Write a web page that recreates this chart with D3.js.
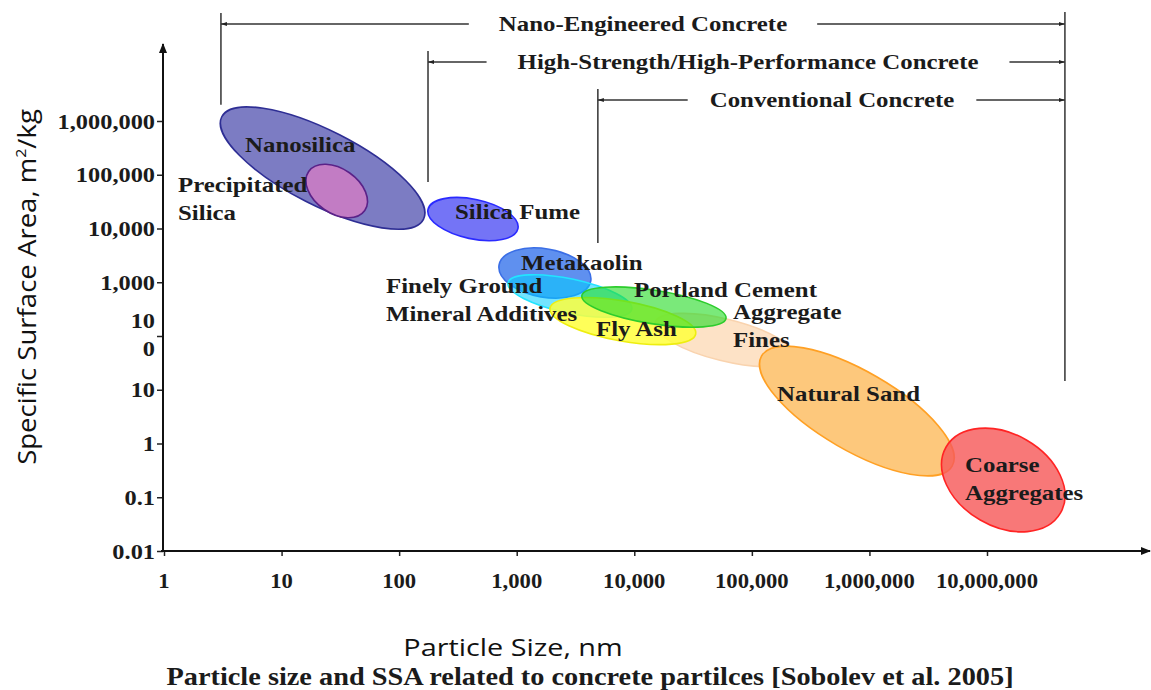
<!DOCTYPE html>
<html>
<head>
<meta charset="utf-8">
<script src="https://cdn.jsdelivr.net/npm/d3@7/dist/d3.min.js"></script>
<style>
  html, body { margin: 0; padding: 0; background: #fff; }
  svg { display: block; }
</style>
</head>
<body>
<svg id="chart" width="1151" height="690"></svg>
<script>
// ---- data ---------------------------------------------------------------
// Material groups: each region is an ellipse whose major axis runs from
// (sizeFrom, ssaFrom) to (sizeTo, ssaTo); particle size in nm, SSA in m²/kg.
const materials   = ["Nanosilica", "Precipitated Silica", "Silica Fume", "Metakaolin",
                     "Finely Ground Mineral Additives", "Aggregate Fines", "Fly Ash",
                     "Portland Cement", "Natural Sand", "Coarse Aggregates"];
const sizeFrom    = [3.1,   17,     176,   708,  843,  15000,  1920,  3580,  121000,  4.49e6];
const sizeTo      = [161,   51,     1024,  4260, 9520, 232000, 33300, 60300, 5.05e6,  4.22e7];
const ssaFrom     = [1.2e6, 115000, 22600, 2100, 977,  177,    330,   565,   42.5,    0.86];
const ssaTo       = [14800, 21600,  9950,  1050, 315,  40,     109,   212,   0.38,    0.051];
const widthRatio  = [0.33,  0.65,   0.43,  0.52, 0.27, 0.29,   0.27,  0.23,  0.36,    0.70];

// Concrete classes: particle-size range covered by each arrow band
const concreteClasses = ["Nano-Engineered Concrete",
                         "High-Strength/High-Performance Concrete",
                         "Conventional Concrete"];
const classFromSize   = [3.05, 176, 4900];
const classToSize     = 4.6e7;
const classFloorSSA   = [2.0e6, 73000, 5400];   // lower end of each left marker
const rightFloorSSA   = 14.5;                   // lower end of the shared right marker

// Axis ticks
const xTickValues = [1, 10, 100, 1000, 1e4, 1e5, 1e6, 1e7];
const xTickLabels = ["1", "10", "100", "1,000", "10,000", "100,000", "1,000,000", "10,000,000"];
const yTickValues = [0.01, 0.1, 1, 10, 100, 1000, 1e4, 1e5, 1e6];
const yTickLabels = ["0.01", "0.1", "1", "10", "10|0", "1,000", "10,000", "100,000", "1,000,000"];

// ---- styling ------------------------------------------------------------
const fills   = ["#7c7cc3", "#c27cc4", "#7474f6", "#5f90ef", "rgba(0,205,255,0.55)",
                 "#fde2c6", "rgba(255,255,60,0.85)", "rgba(40,220,40,0.62)", "#fdc87c", "rgba(246,90,90,0.82)"];
const strokes = ["#2e2e94", "#5a2288", "#2a2aff", "#3a6ee6", "#22e4ff",
                 "#f9d3ae", "#eeee10", "#2ccc2c", "#ffa024", "#ff2424"];
const labelLines = [["Nanosilica"], ["Precipitated", "Silica"], ["Silica Fume"], ["Metakaolin"],
                    ["Finely Ground", "Mineral Additives"], ["Aggregate", "Fines"], ["Fly Ash"],
                    ["Portland Cement"], ["Natural Sand"], ["Coarse", "Aggregates"]];

const W = 1151, H = 690;
const svg = d3.select("#chart");
svg.append("rect").attr("width", W).attr("height", H).attr("fill", "#fff");

const x = d3.scaleLog().domain([1, 1e7]).range([164, 987]);
const y = d3.scaleLog().domain([0.01, 1e6]).range([551, 121]);

const SERIF = "'Liberation Serif', 'Times New Roman', serif";
const SANS  = "'Open Sans', 'Noto Sans', sans-serif";
const FS = 22, SX = 1.13;   // serif lettering is set slightly wide

function wideText(parent, px, py, str, opt = {}) {
  const g = parent.append("g").attr("transform", `translate(${px},${py}) scale(${opt.sx || SX},1)`);
  return g.append("text")
    .attr("text-anchor", opt.anchor || "start")
    .attr("font-family", opt.family || SERIF)
    .attr("font-weight", opt.weight || "bold")
    .attr("font-size", opt.size || FS)
    .attr("fill", opt.fill || "#1b1b1b")
    .text(str);
}

// ---- ellipses -----------------------------------------------------------
const regions = materials.map((m, i) => {
  const x1 = x(sizeFrom[i]), y1 = y(ssaFrom[i]);
  const x2 = x(sizeTo[i]),   y2 = y(ssaTo[i]);
  const a = Math.hypot(x2 - x1, y2 - y1) / 2;
  return { name: m, cx: (x1 + x2) / 2, cy: (y1 + y2) / 2, rx: a, ry: a * widthRatio[i],
           angle: Math.atan2(y2 - y1, x2 - x1) * 180 / Math.PI, i };
});

svg.append("g").selectAll("ellipse").data(regions).join("ellipse")
  .attr("cx", 0).attr("cy", 0)
  .attr("rx", d => d.rx).attr("ry", d => d.ry)
  .attr("transform", d => `translate(${d.cx},${d.cy}) rotate(${d.angle})`)
  .attr("fill", d => fills[d.i])
  .attr("stroke", d => strokes[d.i])
  .attr("stroke-width", 1.6);

// ---- axes ---------------------------------------------------------------
const axisG = svg.append("g");
const defs = svg.append("defs");
defs.append("marker").attr("id", "axisHead").attr("viewBox", "0 0 10 10")
  .attr("refX", 9).attr("refY", 5).attr("markerWidth", 5).attr("markerHeight", 5)
  .attr("orient", "auto").append("path").attr("d", "M0,1 L10,5 L0,9 Z").attr("fill", "#111");
defs.append("marker").attr("id", "bandHead").attr("viewBox", "0 0 10 10")
  .attr("refX", 10).attr("refY", 5).attr("markerWidth", 6).attr("markerHeight", 6)
  .attr("markerUnits", "userSpaceOnUse")
  .attr("orient", "auto").append("path").attr("d", "M0,1.5 L10,5 L0,8.5 Z").attr("fill", "#222");

const xAxis = d3.axisBottom(x).tickValues(xTickValues).tickSize(5).tickFormat("");
const yAxis = d3.axisLeft(y).tickValues(yTickValues).tickSize(6).tickFormat("");
axisG.append("g").attr("transform", `translate(0,${y(0.01)})`).call(xAxis)
  .call(g => g.select(".domain").remove())
  .call(g => g.selectAll("line").attr("stroke", "#222").attr("stroke-width", 1.5));
axisG.append("g").attr("transform", `translate(${x(1) - 1},0)`).call(yAxis)
  .call(g => g.select(".domain").remove())
  .call(g => g.selectAll("line").attr("stroke", "#222").attr("stroke-width", 1.5));

axisG.append("line").attr("x1", x(1) - 1).attr("y1", y(0.01)).attr("x2", x(1) - 1).attr("y2", 44)
  .attr("stroke", "#111").attr("stroke-width", 2).attr("marker-end", "url(#axisHead)");
axisG.append("line").attr("x1", x(1) - 3).attr("y1", y(0.01)).attr("x2", 1150).attr("y2", y(0.01))
  .attr("stroke", "#111").attr("stroke-width", 2).attr("marker-end", "url(#axisHead)");

xTickValues.forEach((v, i) => {
  wideText(svg, x(v), 588, xTickLabels[i], { anchor: "middle", size: 21, sx: 1.08 });
});
yTickValues.forEach((v, i) => {
  const parts = yTickLabels[i].split("|");
  if (parts.length === 1) {
    wideText(svg, 155, y(v) + 7.5, parts[0], { anchor: "end", size: 21, sx: 1.16 });
  } else {
    wideText(svg, 155, y(v) - 8, parts[0], { anchor: "end", size: 21, sx: 1.16 });
    wideText(svg, 155, y(v) + 20, parts[1], { anchor: "end", size: 21, sx: 1.16 });
  }
});

// axis titles and caption
svg.append("g").attr("transform", `translate(36,287) rotate(-90) scale(1.06,1)`)
  .append("text")
  .attr("text-anchor", "middle").attr("font-family", SANS).attr("font-size", 26)
  .attr("fill", "#111")
  .call(t => { t.append("tspan").text("Specific Surface Area, m");
               t.append("tspan").attr("dy", -10).attr("font-size", 15).text("2");
               t.append("tspan").attr("dy", 10).text("/kg"); });
svg.append("g").attr("transform", "translate(513,656) scale(1.2,1)")
  .append("text").attr("text-anchor", "middle")
  .attr("font-family", SANS).attr("font-size", 24).attr("fill", "#111").text("Particle Size, nm");
wideText(svg, 590, 685, "Particle size and SSA related to concrete partilces [Sobolev et al. 2005]",
         { anchor: "middle", size: 26, sx: 1.09 });

// ---- concrete class bands ----------------------------------------------
const bandY = [24, 62, 100];
const bandTextX = [643, 748, 832];
const bandGap = [30, 31, 22];
const xR = x(classToSize);
const bandG = svg.append("g").attr("stroke", "#333").attr("stroke-width", 1.5);
concreteClasses.forEach((c, i) => {
  const xL = x(classFromSize[i]);
  bandG.append("line").attr("x1", xL).attr("x2", xL).attr("y1", bandY[i] - 11).attr("y2", y(classFloorSSA[i]));
  const t = wideText(svg, bandTextX[i], bandY[i] + 7, c, { anchor: "middle" });
  const half = t.node().getComputedTextLength() * SX / 2;
  bandG.append("line").attr("x1", bandTextX[i] - half - bandGap[i]).attr("x2", xL)
    .attr("y1", bandY[i]).attr("y2", bandY[i]).attr("marker-end", "url(#bandHead)");
  bandG.append("line").attr("x1", bandTextX[i] + half + bandGap[i]).attr("x2", xR)
    .attr("y1", bandY[i]).attr("y2", bandY[i]).attr("marker-end", "url(#bandHead)");
});
bandG.append("line").attr("x1", xR).attr("x2", xR).attr("y1", 12).attr("y2", y(rightFloorSSA));

// ---- region labels -------------------------------------------------------
const labelPos = [[245, 152], [178, 192], [455, 219], [521, 270], [386, 293], [733, 319],
                  [596, 336], [634, 297], [777, 401], [965, 472]];
const lineGap = 27.5;
labelLines.forEach((lines, i) => {
  lines.forEach((s, k) => wideText(svg, labelPos[i][0], labelPos[i][1] + k * lineGap, s));
});
</script>
</body>
</html>
